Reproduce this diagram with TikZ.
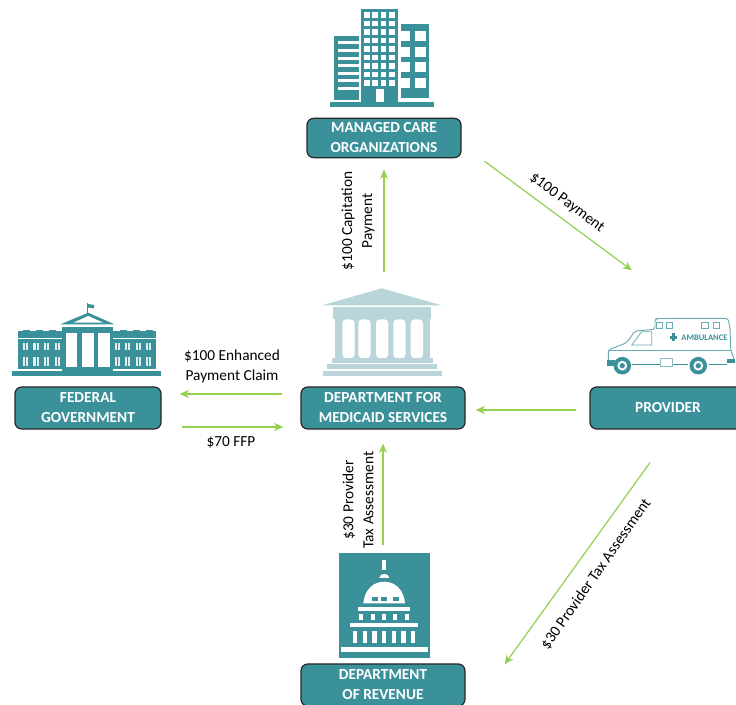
\documentclass[tikz,border=0pt]{standalone}
\usepackage{fontspec}
\setmainfont{Carlito}
\usetikzlibrary{arrows.meta,calc}
\definecolor{tealbox}{HTML}{3A9199}
\definecolor{palebldg}{HTML}{B9D5DA}
\definecolor{flowgreen}{HTML}{92D050}

\begin{document}
\begin{tikzpicture}[
        x=0.75pt, y=-0.75pt,
        agency/.style={rectangle, draw=black!85, line width=0.9pt, fill=tealbox, rounded corners=5pt, inner sep=0pt, minimum height=31.5pt, text=white, align=center, font=\fontsize{11.5}{15}\selectfont\bfseries},
        flow/.style={-{Stealth[length=7pt,width=6pt]}, line width=0.9pt, color=flowgreen},
        money/.style={align=center, inner sep=0pt, text=black, font=\fontsize{11.5}{15}\selectfont},
        teal/.style={fill=tealbox},
        pale/.style={fill=palebldg},
        blank/.style={fill=white},
        pane/.style={fill=white!85!tealbox}
    ]
    \useasboundingbox (0,0) rectangle (736,705);

    % boxes
    \node[agency, minimum width=115.5pt, minimum height=29.5pt] (mco) at (384,138) {MANAGED CARE\\ORGANIZATIONS};
    \node[agency, minimum width=109.5pt] (fed) at (88,408) {FEDERAL\\GOVERNMENT};
    \node[agency, minimum width=123pt] (dms) at (383,408) {DEPARTMENT FOR\\MEDICAID SERVICES};
    \node[agency, minimum width=117pt] (provider) at (668,408) {PROVIDER};
    \node[agency, minimum width=123pt] (dor) at (383,685) {DEPARTMENT\\OF REVENUE};

    % arrows
    \draw[flow, shorten <=86pt, shorten >=8.5pt] (dms.north -| mco.south) -- (mco.south);
    \draw[flow] ($(mco.south east)+(23,3)$) -- ($(provider.north)+(-36,-116)$);
    \draw[flow, shorten <=13.5pt, shorten >=13.5pt] ([yshift=10.5pt]dms.west) -- ([yshift=10.5pt]fed.east);
    \draw[flow, shorten <=15pt, shorten >=12.75pt] ([yshift=-14.25pt]fed.east) -- ([yshift=-14.25pt]dms.west);
    \draw[flow, shorten <=9.75pt, shorten >=7.5pt] ([yshift=-1.5pt]provider.west) -- ([yshift=-1.5pt]dms.east);
    \draw[flow, shorten <=88.5pt, shorten >=10.5pt] (dor.north) -- (dms.south);
    \draw[flow] ($(provider.south)+(-18,33)$) -- ($(dor.north east)+(39,1)$);

    % labels
    \node[money, rotate=90] (capitation) at (358,221) {\$100 Capitation\\Payment};
    \node[money, rotate=-37] (payment) at (567,203) {\$100 Payment};
    \node[money] (claim) at (232,366) {\$100 Enhanced\\Payment Claim};
    \node[money] (ffp) at (231,442) {\$70 FFP};
    \node[money, rotate=90] (assess) at (358,500) {\$30 Provider\\Tax Assessment};
    \node[money, rotate=55] (taxline) at (596,574) {\$30 Provider Tax Assessment};

    % office towers
    \fill[teal] (330,102) rectangle (434,107);
    \fill[teal] (361,9) rectangle (398,103);
    \fill[teal] (334,36) rectangle (359,100);
    \fill[teal] (400.7,24) rectangle (429.3,98);
    \foreach \i in {0,...,3}
        \foreach \j in {0,...,8}
            \fill[blank] ({364+8.4*\i},{12.3+8.5*\j}) rectangle ++(5.6,5.6);
    \fill[blank] (375.7,89) rectangle (384,102);
    \foreach \j in {0,...,6}
        \fill[blank] (338,{41.5+7.6*\j}) rectangle ++(21,3);
    \foreach \j in {31,46.7,62.3,77.7} {
        \fill[blank] (400.7,\j) rectangle ++(9.3,10);
        \fill[blank] (415,\j) rectangle ++(10.7,10);
    }

    % federal building
    \fill[teal] (12,371) rectangle (160.7,376);
    \fill[teal] (18.3,331.3) rectangle (156,369.3);
    \foreach \x in {23,36,49,120,133,146}
        \fill[teal] (\x,330) rectangle ++(7,2);
    \fill[teal] (62.3,327.5) rectangle (113.3,371);
    \fill[teal] (88.3,312.7) -- (115,324.5) -- (60,324.5) -- cycle;
    \fill[blank] (88.3,316) -- (103.3,322.7) -- (73.3,322.7) -- cycle;
    \fill[teal] (87.2,303) rectangle (88.2,313);
    \fill[teal] (88.2,304) -- (94,305) -- (94,308.5) -- (88.2,307.5) -- cycle;
    \fill[blank] (18.3,337.7) rectangle (62.3,339);
    \fill[blank] (113.3,337.7) rectangle (156,339);
    \foreach \x in {65.7,82,98}
        \fill[blank] (\x,332.7) rectangle ++(11.7,34.5);
    \foreach \x in {22.7,33.3,44,54.7,114.7,125,135.7,146} {
        \fill[pane] (\x,342.7) rectangle ++(5.3,7.3);
        \fill[pane] (\x,356.7) rectangle ++(5.3,9.3);
        \fill[teal] ({\x+2.2},342.7) rectangle ++(0.9,7.3);
        \fill[teal] ({\x+2.2},356.7) rectangle ++(0.9,9.3);
    }

    % medicaid building
    \fill[pale] (381.7,288.3) -- (441.7,305.3) -- (322.3,305.3) -- cycle;
    \fill[pale] (333.3,306.7) rectangle (431.3,319.3);
    \fill[pale] (335,319) rectangle (430,358.5);
    \foreach \x in {342.3,358.3,376,393.3,410.7}
        \fill[blank, rounded corners=3pt] (\x,319.3) rectangle ++(12.3,39);
    \fill[pale] (331.7,358.3) rectangle (432.7,363.3);
    \fill[pale] (327.3,364) rectangle (437.3,369.3);
    \fill[pale] (323,370.7) rectangle (441.7,376);

    % ambulance
    \draw[tealbox!75, line width=0.7pt, rounded corners=1.5pt] (608.3,363.3) -- (608.3,350) -- (626.7,342.7) -- (635,331) -- (655,329.3) -- (655,319.3) -- (657,318.5) -- (728,318.3) -- (730,328) -- (730.7,350) -- (735,361.7);
    \draw[tealbox!75, line width=0.6pt] (608.3,350) -- (730.7,350);
    \draw[tealbox!75, line width=0.6pt] (631.7,345) -- (641.7,331.7) -- (651.7,331.7) -- (651.7,345) -- cycle;
    \foreach \x in {656,666,701.7,713.3}
        \draw[tealbox!75, line width=0.6pt] (\x,322.7) rectangle ++(6.3,5.3);
    \fill[teal] (606.7,360) rectangle (615,366);
    \fill[teal] (726.7,359.3) -- (735,359.3) -- (735,363.3) -- (726.7,363.3) -- cycle;
    \fill[tealbox] (632,364.5) rectangle (660,365.3);
    \fill[tealbox] (672,364.5) rectangle (688,365.3);
    \fill[tealbox] (709,364.5) rectangle (727,365.3);
    \draw[tealbox!60, line width=0.6pt, fill=white] (660,358.3) rectangle (672.7,366);
    \foreach \x in {622.3,698.3} {
        \fill[teal] (\x,365.7) circle (6.6pt);
        \fill[blank] (\x,365.7) circle (3.7pt);
        \fill[teal] (\x,365.7) circle (2pt);
    }
    \fill[teal] (671.8,333.5) rectangle (675,341);
    \fill[teal] (669.6,335.6) rectangle (677.2,338.9);
    \node[inner sep=0pt, text=tealbox, font=\fontsize{6.4}{7}\selectfont\bfseries] (ambtext) at (704.5,337.5) {AMBULANCE};

    % capitol
    \fill[teal] (339,553.3) rectangle (429.7,657.7);
    \fill[blank] (382.3,560.3) rectangle (386,569.7);
    \fill[blank] (379.3,578) .. controls (379.5,572.5) and (389.1,572.5) .. (389.3,578) -- cycle;
    \fill[blank] (363.3,603.3) .. controls (364.5,590) and (373,581.7) .. (384.2,581.7) .. controls (395.4,581.7) and (404,590) .. (405,603.3) -- cycle;
    \foreach \x in {371.7,381,393.3}
        \fill[teal] (\x,597.3) rectangle ++(6,3.3);
    \fill[blank] (358.3,607.3) rectangle (410,610.7);
    \foreach \x in {359.3,371,382.3,393.3,405}
        \fill[blank] (\x,614) rectangle ++(4,6);
    \fill[blank] (350,623.3) rectangle (418.3,626.7);
    \foreach \x in {353,362.7,372.3,382,391.7,401.3,411}
        \fill[blank] (\x,630.7) rectangle ++(4.3,12);
    \fill[blank] (340.7,646.7) rectangle (427.7,652.3);

\end{tikzpicture}
\end{document}
